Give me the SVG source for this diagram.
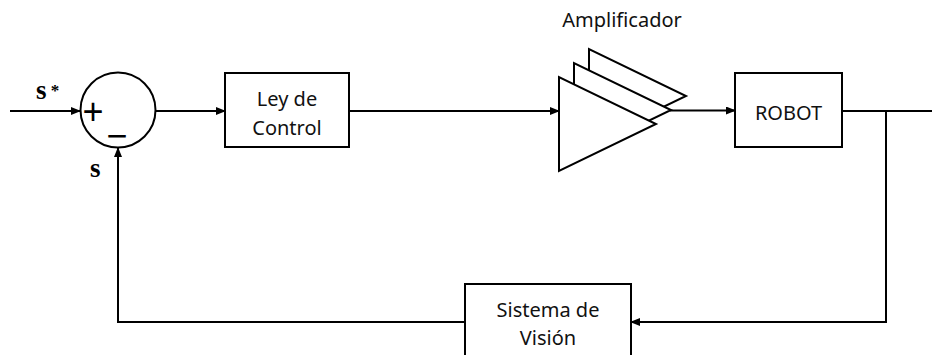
<svg xmlns="http://www.w3.org/2000/svg" width="932" height="355" viewBox="0 0 932 355">
<style>
.ln{fill:none;stroke:#000;stroke-width:2}
.box{fill:#fff;stroke:#000;stroke-width:2}
.tri{fill:#fff;stroke:#000;stroke-width:2;stroke-linejoin:miter}
.t{font-family:"Noto Sans","Liberation Sans",Arial,sans-serif;font-size:20px;fill:#111;text-anchor:middle}
.m{font-family:"Liberation Serif","Times New Roman",serif;font-weight:bold;fill:#000}
.sym{font-family:"Liberation Sans",Arial,sans-serif;font-size:36px;fill:#000;text-anchor:middle}
</style>
<defs>
<marker id="ah" markerWidth="10" markerHeight="8" refX="9" refY="4" orient="auto" markerUnits="userSpaceOnUse">
<path d="M0,0 L10,4 L0,8 z" fill="#000"/>
</marker>
</defs>
<rect width="932" height="355" fill="#fff"/>
<g id="connectors">
<line class="ln" x1="10" y1="111" x2="80" y2="111" marker-end="url(#ah)"/>
<line class="ln" x1="156" y1="111" x2="225" y2="111" marker-end="url(#ah)"/>
<line class="ln" x1="349" y1="111" x2="559" y2="111" marker-end="url(#ah)"/>
<line class="ln" x1="670" y1="110.5" x2="735" y2="110.5" marker-end="url(#ah)"/>
<line class="ln" x1="842" y1="111" x2="932" y2="111"/>
<polyline class="ln" points="886,111 886,322 631,322" marker-end="url(#ah)"/>
<polyline class="ln" points="465,322 118,322 118,148" marker-end="url(#ah)"/>
</g>
<g id="sum">
<circle cx="118" cy="110" r="37.5" class="box"/>
<text class="sym" x="93" y="124">+</text>
<text class="sym" x="117" y="148">−</text>
</g>
<g id="labels">
<text class="m" x="36" y="99" font-size="27">s</text>
<text class="m" x="55" y="96" font-size="17" text-anchor="middle">*</text>
<text class="m" x="90" y="177" font-size="27">s</text>
</g>
<g id="ley">
<rect class="box" x="225" y="73" width="124" height="74"/>
<text class="t" x="287" y="106">Ley de</text>
<text class="t" x="287" y="135">Control</text>
</g>
<g id="amplificador">
<polygon class="tri" points="589,49 589,143 686,96"/>
<polygon class="tri" points="574,63 574,157 671,110"/>
<polygon class="tri" points="559,77 559,171 656,124"/>
<text class="t" x="622" y="27">Amplificador</text>
</g>
<g id="robot">
<rect class="box" x="735" y="73" width="107" height="74"/>
<text class="t" x="788.5" y="120">ROBOT</text>
</g>
<g id="vision">
<rect class="box" x="465" y="284" width="166" height="80"/>
<text class="t" x="548" y="317">Sistema de</text>
<text class="t" x="548" y="345">Visión</text>
</g>
</svg>
